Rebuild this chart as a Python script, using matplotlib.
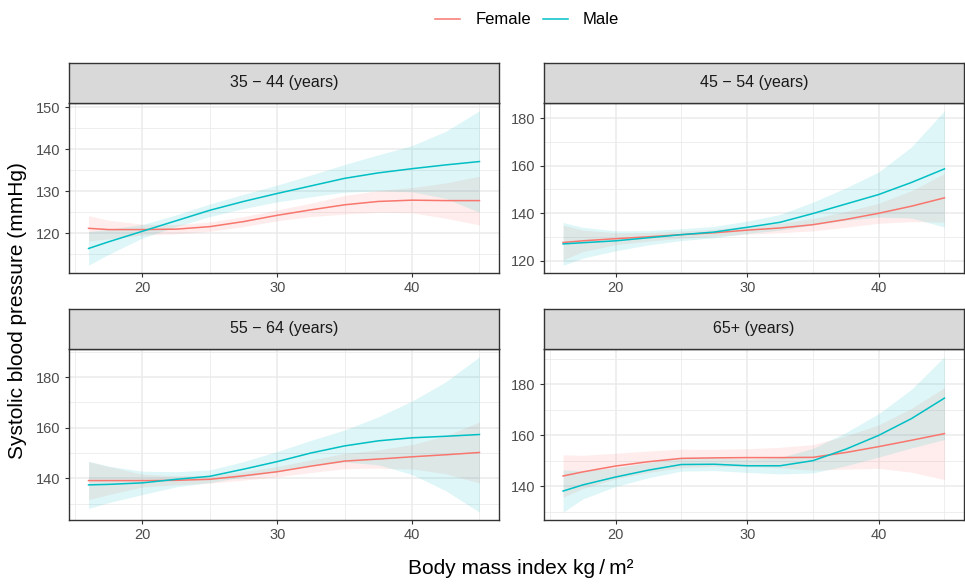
import numpy as np
import matplotlib
matplotlib.use("Agg")
import matplotlib.pyplot as plt
from matplotlib.ticker import MultipleLocator
from matplotlib.lines import Line2D

plt.rcParams['font.family'] = ['Liberation Sans', 'DejaVu Sans']

# BMI grid the curves were read at
bmi = [16, 17.5, 20, 22.5, 25, 27.5, 30, 32.5, 35, 37.5, 40, 42.5, 45]

age_groups = ["35 \u2212 44 (years)", "45 \u2212 54 (years)", "55 \u2212 64 (years)", "65+ (years)"]

# fitted systolic BP, one list per age group
female_sbp = [
    [121.2, 120.9, 120.9, 121.0, 121.6, 122.8, 124.3, 125.6, 126.8, 127.6, 127.9, 127.8, 127.8],
    [127.6, 128.3, 129.2, 130.0, 130.9, 131.7, 132.8, 133.7, 135.1, 137.3, 139.9, 142.9, 146.4],
    [139.1, 139.1, 139.1, 139.2, 139.6, 141.0, 142.6, 144.8, 146.8, 147.6, 148.5, 149.3, 150.2],
    [144.0, 145.6, 147.9, 149.6, 150.9, 151.1, 151.2, 151.2, 151.3, 153.2, 155.5, 158.0, 160.6],
]
male_sbp = [
    [116.4, 118.0, 120.5, 123.0, 125.5, 127.6, 129.5, 131.3, 133.1, 134.4, 135.4, 136.3, 137.1],
    [127.0, 127.5, 128.3, 129.6, 130.9, 132.0, 134.0, 136.1, 139.8, 143.8, 147.8, 152.9, 158.6],
    [137.4, 137.6, 138.2, 139.6, 140.8, 143.6, 146.6, 150.0, 152.8, 154.8, 156.0, 156.6, 157.3],
    [138.1, 140.5, 143.6, 146.3, 148.5, 148.6, 148.0, 148.0, 150.0, 154.5, 159.9, 166.5, 174.5],
]

# half width of the confidence band
female_ci = [
    [3.0, 2.2, 1.3, 1.1, 1.1, 1.2, 1.3, 1.6, 2.2, 2.6, 3.0, 4.2, 5.8],
    [7.3, 4.5, 2.5, 1.8, 1.5, 1.5, 1.7, 2.0, 2.6, 3.3, 4.2, 6.5, 10.2],
    [7.5, 5.5, 2.5, 1.8, 1.5, 1.7, 2.0, 2.5, 3.0, 3.6, 4.8, 7.5, 12.0],
    [8.3, 6.5, 5.0, 4.2, 3.6, 3.3, 3.5, 4.0, 5.0, 6.5, 8.5, 12.5, 18.0],
]
male_ci = [
    [4.0, 3.0, 1.6, 1.4, 1.5, 1.7, 2.0, 2.6, 3.3, 4.3, 5.5, 8.0, 12.1],
    [9.0, 6.5, 4.2, 3.0, 2.5, 2.4, 2.6, 3.3, 4.8, 6.8, 9.5, 15.0, 24.5],
    [9.3, 7.2, 4.6, 3.0, 2.5, 3.0, 4.0, 5.0, 6.3, 9.5, 14.5, 21.5, 30.7],
    [8.3, 5.5, 3.7, 3.0, 2.6, 2.5, 2.6, 3.2, 4.8, 6.5, 8.5, 11.5, 16.2],
]

y_steps = [10, 20, 20, 20]

FEMALE = '#F8766D'
MALE = '#00BFC4'
W, H = 965, 585

# panel boxes in pixels: left, top, right, bottom (strip sits 40px above)
boxes = [(69, 103, 499, 273), (544, 103, 963.5, 273),
         (69, 349, 499, 520), (544, 349, 963.5, 520)]


def to_fig(l, t, r, b):
    return [l / W, 1 - b / H, (r - l) / W, (b - t) / H]


fig = plt.figure(figsize=(W / 100, H / 100), dpi=100)

for i, (l, t, r, b) in enumerate(boxes):
    ax = fig.add_axes(to_fig(l, t, r, b))
    x = np.array(bmi)
    for sbp, ci, col in [(female_sbp[i], female_ci[i], FEMALE), (male_sbp[i], male_ci[i], MALE)]:
        y = np.array(sbp)
        c = np.array(ci)
        ax.fill_between(x, y - c, y + c, color=col, alpha=0.13, lw=0)
        ax.plot(x, y, color=col, lw=1.1)

    ax.margins(x=0.05, y=0.05)
    ax.xaxis.set_major_locator(MultipleLocator(10))
    ax.xaxis.set_minor_locator(MultipleLocator(5))
    ax.yaxis.set_major_locator(MultipleLocator(y_steps[i]))
    ax.yaxis.set_minor_locator(MultipleLocator(y_steps[i] / 2))
    ax.grid(which='major', color='#EBEBEB', lw=1.1)
    ax.grid(which='minor', color='#EBEBEB', lw=0.6)
    ax.set_axisbelow(True)
    ax.tick_params(which='major', length=3, width=0.8, color='#333333',
                   labelsize=10.5, labelcolor='#4D4D4D', pad=3)
    ax.tick_params(which='minor', length=0)
    for s in ax.spines.values():
        s.set_color('#333333')
        s.set_linewidth(1.0)

    # facet strip
    sx = fig.add_axes(to_fig(l, t - 40, r, t))
    sx.set_facecolor('#D9D9D9')
    sx.set_xticks([])
    sx.set_yticks([])
    for s in sx.spines.values():
        s.set_color('#333333')
        s.set_linewidth(1.0)
    sx.text(0.5, 0.5, age_groups[i], ha='center', va='center',
            fontsize=11.5, color='#1A1A1A', transform=sx.transAxes)

fig.text(18 / W, 1 - 311 / H, "Systolic blood pressure (mmHg)", rotation=90,
         ha='center', va='center', fontsize=15)
fig.text(521 / W, 1 - 568 / H, "Body mass index kg\u2009/\u2009m\u00b2",
         ha='center', va='center', fontsize=15)

handles = [Line2D([], [], color=FEMALE, lw=1.1), Line2D([], [], color=MALE, lw=1.1)]
fig.legend(handles, ["Female", "Male"], loc='center', bbox_to_anchor=(527 / W, 1 - 20 / H),
           ncol=2, frameon=False, fontsize=12, handlelength=1.5, handletextpad=0.9,
           columnspacing=0.7)

fig.savefig("out.png", dpi=100)
